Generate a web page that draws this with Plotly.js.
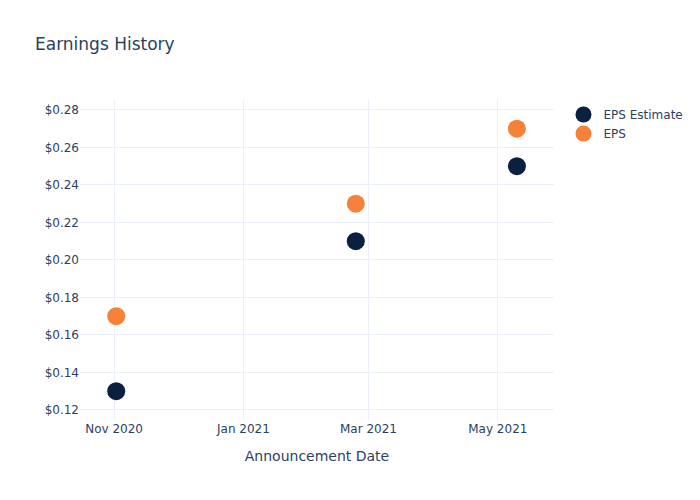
<!DOCTYPE html>
<html>
<head>
<meta charset="utf-8">
<script src="https://cdn.plot.ly/plotly-3.0.1.min.js"></script>
<style>html,body{margin:0;padding:0;}#chart{width:700px;height:500px;}</style>
</head>
<body>
<div id="chart"></div>
<script>
const dates = ["2020-11-02", "2021-02-23", "2021-05-10"];
const epsEstimate = [0.13, 0.21, 0.25];
const eps = [0.17, 0.23, 0.27];

const traces = [
  {
    x: dates, y: epsEstimate, type: "scatter", mode: "markers", name: "EPS Estimate",
    marker: {color: "#0b1f3f", size: 18}
  },
  {
    x: dates, y: eps, type: "scatter", mode: "markers", name: "EPS",
    marker: {color: "#f6823a", size: 18}
  }
];

const layout = {
  width: 700, height: 500,
  template: "plotly_white",
  font: {family: "'DejaVu Sans', 'Open Sans', sans-serif", color: "#2a3f5f", size: 12},
  title: {text: "Earnings History", font: {size: 17}, x: 0.05, xanchor: "left"},
  margin: {l: 80, r: 80, t: 100, b: 80},
  plot_bgcolor: "white", paper_bgcolor: "white",
  xaxis: {
    title: {text: "Announcement Date", font: {size: 14}, standoff: 16},
    automargin: false,
    type: "date", gridcolor: "#EBF0F8", zeroline: false, tickformat: "%b %Y",
    showline: false, tickfont: {size: 12},
    range: ["2020-10-15 22:00", "2021-05-27 12:00"]
  },
  yaxis: {
    tickformat: "$.2f", gridcolor: "#EBF0F8", zeroline: false, tickfont: {size: 12},
    dtick: 0.02, range: [0.1146, 0.2853]
  },
  legend: {font: {size: 12}}
};

Plotly.newPlot("chart", traces, layout, {displayModeBar: false});
</script>
</body>
</html>
